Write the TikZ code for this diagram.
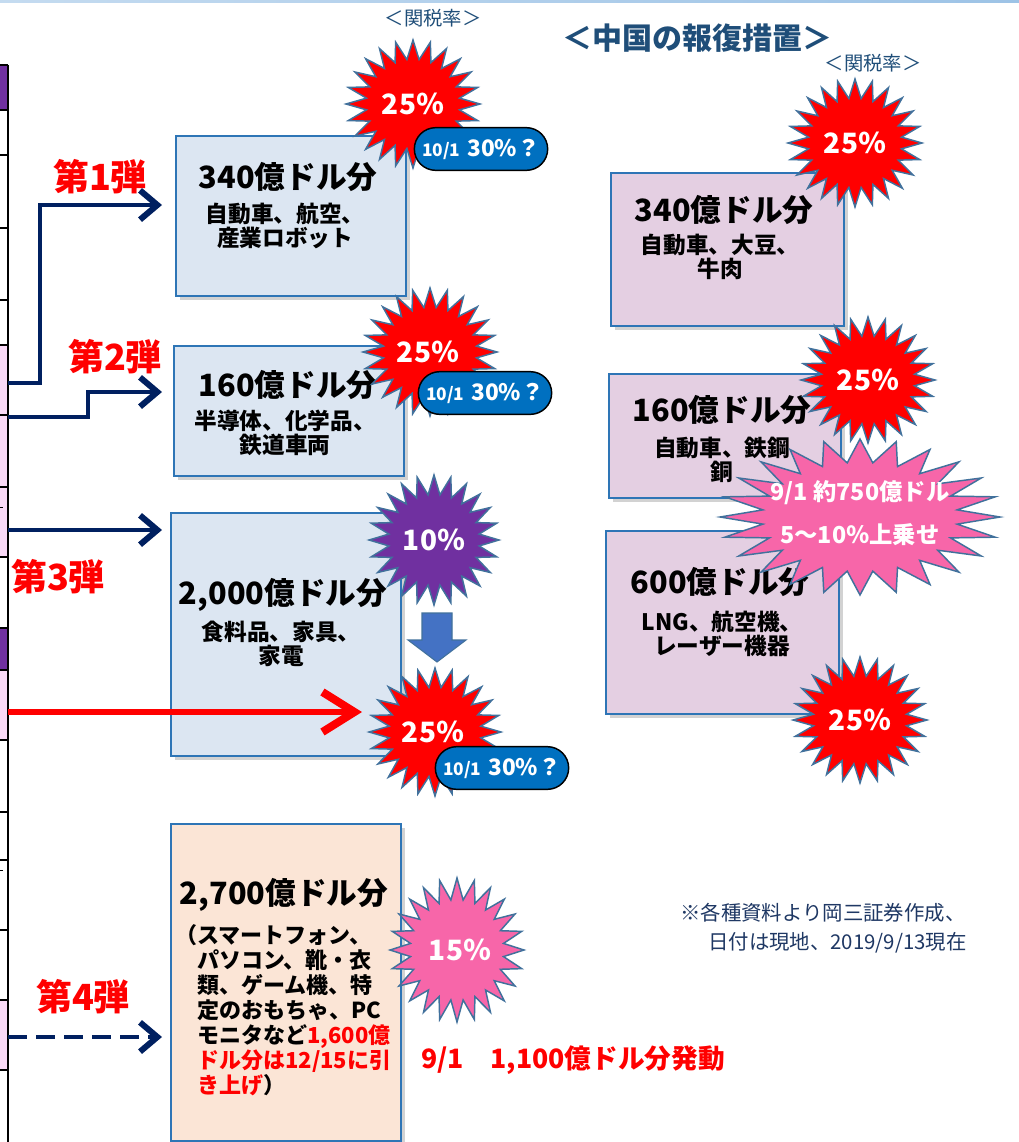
\documentclass[tikz,border=0pt]{standalone}
\usepackage{fontspec}
\setmainfont{Noto Sans CJK JP}
\usetikzlibrary{arrows.meta,shadows}
\definecolor{navy}{HTML}{002060}
\definecolor{lblue}{HTML}{DCE6F2}
\definecolor{boxline}{HTML}{2E75B6}
\definecolor{lav}{HTML}{E4CFE2}
\definecolor{peach}{HTML}{FBE5D6}
\definecolor{starline}{HTML}{41719C}
\definecolor{spurple}{HTML}{7030A0}
\definecolor{spink}{HTML}{F766A9}
\definecolor{bubblec}{HTML}{0070C0}
\definecolor{darrow}{HTML}{4472C4}
\definecolor{titlec}{HTML}{1F4E79}
\definecolor{notec}{HTML}{1F3864}
\definecolor{lpink}{HTML}{F9D9F6}
\definecolor{topline}{HTML}{9DC3E6}
\newcommand\fsz[1]{\fontsize{#1}{#1}\selectfont}
\newcommand\burst[5]{\filldraw[fill=#5,draw=starline,line width=1.1pt]
  plot[samples=49,domain=0:48,variable=\burstk]
  ({#1+#3*(1-0.3*mod(round(\burstk),2))*cos(\burstk*7.5)},{#2+#4*(1-0.3*mod(round(\burstk),2))*sin(\burstk*7.5)}) -- cycle;}
\newcommand\bubtext{{\fsz{13}10/1}\hspace{5pt}{\fsz{17}30\%？}}
\tikzset{
  boxbase/.style={draw=boxline,line width=1.2pt,anchor=north west,inner sep=0pt,
    drop shadow={shadow xshift=3pt,shadow yshift=-3pt,opacity=0.35}},
  lbox/.style={boxbase,fill=lblue},
  rbox/.style={boxbase,fill=lav},
  pbox/.style={boxbase,fill=peach},
  boxtitle/.style={font=\bfseries\fsz{23},inner sep=0pt},
  boxsub/.style={font=\bfseries\fsz{17},align=center,inner sep=0pt,
    execute at begin node=\setlength{\baselineskip}{18.5pt}},
  startext/.style={text=white,font=\bfseries\fsz{21},inner sep=0pt},
  bubble/.style={fill=bubblec,draw=black,line width=1.1pt,rounded corners=16pt,
    minimum width=100pt,minimum height=32pt,inner sep=0pt,text=white,font=\bfseries},
  navyarr/.style={draw=navy,line width=3.5pt,-{Straight Barb[length=13pt,width=22pt,line width=4.5pt]}},
  redarr/.style={draw=red,line width=4.5pt,-{Straight Barb[length=24pt,width=30pt,line width=6pt]}},
  dan/.style={text=red,font=\bfseries\fsz{27},inner sep=0pt},
  lbl/.style={text=titlec,font=\fsz{14.5},inner sep=0pt},
  note/.style={text=notec,font=\fsz{15.3},inner sep=0pt}
}
\begin{document}
\begin{tikzpicture}[x=0.75pt,y=-0.75pt]
\useasboundingbox (0,0) rectangle (1019,1142);
\fill[white] (0,0) rectangle (1019,1142);
% top line
\shade[left color=topline!60,right color=topline] (0,0) rectangle (1019,2.5);
% left table strip
\fill[spurple] (0,65) rectangle (8,110);
\fill[spurple] (0,628) rectangle (8,670);
\fill[lpink] (0,345) rectangle (8,557);
\fill[lpink] (0,670) rectangle (8,740);
\fill[lpink] (0,1000) rectangle (8,1070);
\foreach \yy in {65,110,155,228,300,345,415,487,557,628,670,740,812,860,930,1000,1070}
  \draw[black,line width=0.8pt] (0,\yy) -- (8,\yy);
\draw[black,line width=1.5pt] (8,65) -- (8,1142);
\draw[black,line width=0.6pt] (0,507) -- (3,507);
\draw[black,line width=0.6pt] (0,870) -- (3,870);
% titles
\node[lbl] (lab1) at (433,18) {＜関税率＞};
\node[text=titlec,font=\bfseries\fsz{22.5},inner sep=0pt] (title) at (697,38) {＜中国の報復措置＞};
\node[lbl] (lab2) at (873,63) {＜関税率＞};
% arrows
\coordinate (a1s) at (8,383); \coordinate (a1e) at (162,205);
\coordinate (a2s) at (8,417); \coordinate (a2e) at (162,392);
\coordinate (a3s) at (8,530); \coordinate (a3e) at (162,530);
\coordinate (a4s) at (8,712); \coordinate (a4e) at (362,712);
\coordinate (a5s) at (8,1037); \coordinate (a5e) at (162,1037);
\draw[navyarr] (a1s) -- ++(32,0) |- (a1e);
\draw[navyarr] (a2s) -- ++(80,0) |- (a2e);
\draw[navyarr] (a3s) -- (a3e);
\draw[navyarr,dash pattern=on 14pt off 7pt] (a5s) -- (a5e);
\node[dan] (d1) at (100,177) {第1弾};
\node[dan] (d2) at (115,357) {第2弾};
\node[dan] (d3) at (58,577) {第3弾};
\node[dan] (d4) at (83,997) {第4弾};
% left boxes
\node[lbox,minimum width=172.5pt,minimum height=120pt] (b1) at (175,135) {};
\node[boxtitle] (b1t) at (288,177) {340億ドル分};
\node[boxsub] (b1s) at (285,226) {自動車、航空、\\産業ロボット};
\burst{413}{104}{67}{64}{red}
\node[startext] (s1) at (413,104) {25％};
\node[bubble] (bb1) at (481,149) {\bubtext};

\node[lbox,minimum width=172.5pt,minimum height=97.5pt] (b2) at (173,345) {};
\node[boxtitle] (b2t) at (288,385) {160億ドル分};
\node[boxsub] (b2s) at (285,433) {半導体、化学品、\\鉄道車両};
\burst{430}{352}{67}{64}{red}
\node[startext] (s2) at (428,352) {25％};
\node[bubble] (bb2) at (485,393) {\bubtext};

\node[lbox,minimum width=172.5pt,minimum height=182.25pt] (b3) at (170,512) {};
\node[boxtitle] (b3t) at (283,595) {2,000億ドル分};
\node[boxsub] (b3s) at (281,644) {食料品、家具、\\家電};
\draw[redarr] (a4s) -- (a4e);
\burst{434}{540}{65}{65}{spurple}
\node[startext] (s3) at (434,540) {10％};
\filldraw[fill=darrow,draw=starline,line width=0.8pt] (422,613) -- (452,613) -- (452,640) -- (466,640) -- (437,662) -- (408,640) -- (422,640) -- cycle;
\burst{435}{732}{66}{64}{red}
\node[startext] (s4) at (433,732) {25％};
\node[bubble] (bb3) at (502,768) {\bubtext};

\node[pbox,minimum width=172.5pt,minimum height=237.75pt] (b4) at (170,823) {};
\node[boxtitle] (b4t) at (284,895) {2,700億ドル分};
\node[anchor=west,align=left,inner sep=0pt,font=\bfseries\fsz{16.5},
  execute at begin node=\setlength{\baselineskip}{18.75pt}] (b4s) at (175,1010)
  {（スマートフォン、\\
   \hspace*{1em}パソコン、靴・衣\\
   \hspace*{1em}類、ゲーム機、特\\
   \hspace*{1em}定のおもちゃ、PC\\
   \hspace*{1em}モニタなど\textcolor{red}{1,600億}\\
   \hspace*{1em}\textcolor{red}{ドル分は12/15に引}\\
   \hspace*{1em}\textcolor{red}{き上げ}）};
\burst{457}{950}{67}{72}{spink}
\node[startext] (s5) at (460,950) {15％};
\node[text=red,font=\bfseries\fsz{20},inner sep=0pt] (go) at (573,1060) {9/1\hspace{1em}1,100億ドル分発動};
% right boxes
\node[rbox,minimum width=174.75pt,minimum height=114.75pt] (r1) at (610,172) {};
\node[boxtitle] (r1t) at (724,210) {340億ドル分};
\node[boxsub] (r1s) at (720,257) {自動車、大豆、\\牛肉};
\burst{855}{143}{67}{64}{red}
\node[startext] (rs1) at (855,143) {25％};

\node[rbox,minimum width=174pt,minimum height=93pt] (r2) at (608,373) {};
\node[boxtitle] (r2t) at (722,410) {160億ドル分};
\node[boxsub] (r2s) at (722,460) {自動車、鉄鋼\\銅};
\burst{868}{380}{67}{63}{red}
\node[startext] (rs2) at (868,380) {25％};

\node[rbox,minimum width=174.75pt,minimum height=137.25pt] (r3) at (605,530) {};
\node[boxtitle] (r3t) at (720,582) {600億ドル分};
\node[boxsub] (r3s) at (722,634) {LNG、航空機、\\レーザー機器};
\burst{860}{517}{140}{78}{spink}
\node[text=white,font=\bfseries\fsz{17.5},inner sep=0pt] (rp1) at (860,493) {9/1 約750億ドル};
\node[text=white,font=\bfseries\fsz{17.5},inner sep=0pt] (rp2) at (860,535) {5～10％上乗せ};
\burst{860}{720}{67}{63}{red}
\node[startext] (rs3) at (860,720) {25％};
% note
\node[note,anchor=west] (n1) at (680,913) {※各種資料より岡三証券作成、};
\node[note,anchor=west] (n2) at (708,943) {日付は現地、2019/9/13現在};
\end{tikzpicture}
\end{document}
